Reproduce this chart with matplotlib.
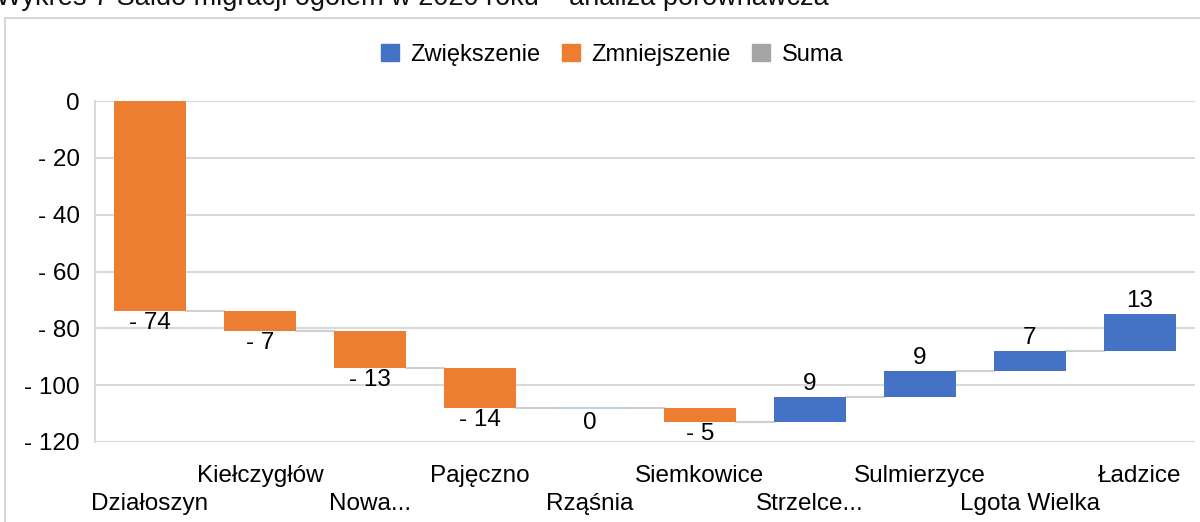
import matplotlib
matplotlib.use('Agg')
import matplotlib.pyplot as plt
from matplotlib.patches import Patch, Rectangle

plt.rcParams['font.family'] = ['Liberation Sans', 'DejaVu Sans']

# Data
categories = ["Działoszyn", "Kiełczygłów", "Nowa...", "Pajęczno", "Rząśnia",
              "Siemkowice", "Strzelce...", "Sulmierzyce", "Lgota Wielka", "Ładzice"]
changes = [-74, -7, -13, -14, 0, -5, 9, 9, 7, 13]
y_ticks = [0, -20, -40, -60, -80, -100, -120]

col_up = "#4472c4"
col_down = "#ed7d31"
col_sum = "#a5a5a5"
grid_col = "#d9d9d9"
fs = 17.5

fig = plt.figure(figsize=(12, 5.22), dpi=100)
ax = fig.add_axes([95 / 1200, 1 - 442 / 522, 1100 / 1200, 341 / 522])
px = 120 / 341  # data units per pixel

# chart frame
fig.patches.append(Rectangle((5 / 1200, -0.05), 1.1, 1 - 18 / 522 + 0.05, transform=fig.transFigure,
                             fill=False, edgecolor="#d0d0d0", linewidth=1.2))

# title cut at the top edge, as in the source
fig.text(-4 / 1200, 1 - 5 / 522, "Wykres 7 Saldo migracji ogółem w 2020 roku – analiza porównawcza",
         fontsize=19.5, va="baseline", ha="left", color="#111111")

# waterfall
width = 0.66
level = 0
ends = []
for i, v in enumerate(changes):
    start = level
    level = level + v
    ends.append(level)
    if v == 0:
        ax.plot([i - width / 2, i + width / 2], [level, level], color="#b4c7e7", lw=1.2, zorder=3)
        ax.text(i, level - 4 * px, "0", ha="center", va="top", fontsize=fs)
        continue
    color = col_up if v > 0 else col_down
    ax.bar(i, v, bottom=start, width=width, color=color, zorder=3)
    if v > 0:
        ax.text(i, level + 2 * px, f"{v}", ha="center", va="bottom", fontsize=fs)
    else:
        ax.text(i, level - 1 * px, f"- {abs(v)}", ha="center", va="top", fontsize=fs)

# connectors
for i in range(len(ends) - 1):
    ax.plot([i + width / 2, i + 1 - width / 2], [ends[i], ends[i]], color="#d0d0d0", lw=1.5, zorder=2)

ax.set_xlim(-0.5, len(categories) - 0.5)
ax.set_ylim(-120, 0)
ax.set_yticks(y_ticks)
ax.set_yticklabels(["0" if t == 0 else f"- {abs(t)}" for t in y_ticks], fontsize=fs)
ax.yaxis.grid(True, color=grid_col, lw=1.5, zorder=0)
ax.set_axisbelow(True)
for s in ["top", "right", "bottom"]:
    ax.spines[s].set_visible(False)
ax.spines["left"].set_color(grid_col)
ax.spines["left"].set_linewidth(1.5)
ax.tick_params(axis="y", length=0, pad=11)
ax.tick_params(axis="x", length=0)
ax.set_xticks(range(len(categories)))
ax.set_xticklabels([])
for i, c in enumerate(categories):
    off = 34 if i % 2 == 1 else 62
    ax.text(i, -120 - off * px, c, ha="center", va="center", fontsize=fs, clip_on=False)

handles = [Patch(color=col_up, label="Zwiększenie"),
           Patch(color=col_down, label="Zmniejszenie"),
           Patch(color=col_sum, label="Suma")]
fig.legend(handles=handles, loc="center", bbox_to_anchor=(612 / 1200, 1 - 55 / 522), ncol=3,
           frameon=False, fontsize=17, handlelength=0.75, handleheight=0.75,
           handletextpad=0.5, columnspacing=0.9)

fig.savefig("out.png", dpi=100)
